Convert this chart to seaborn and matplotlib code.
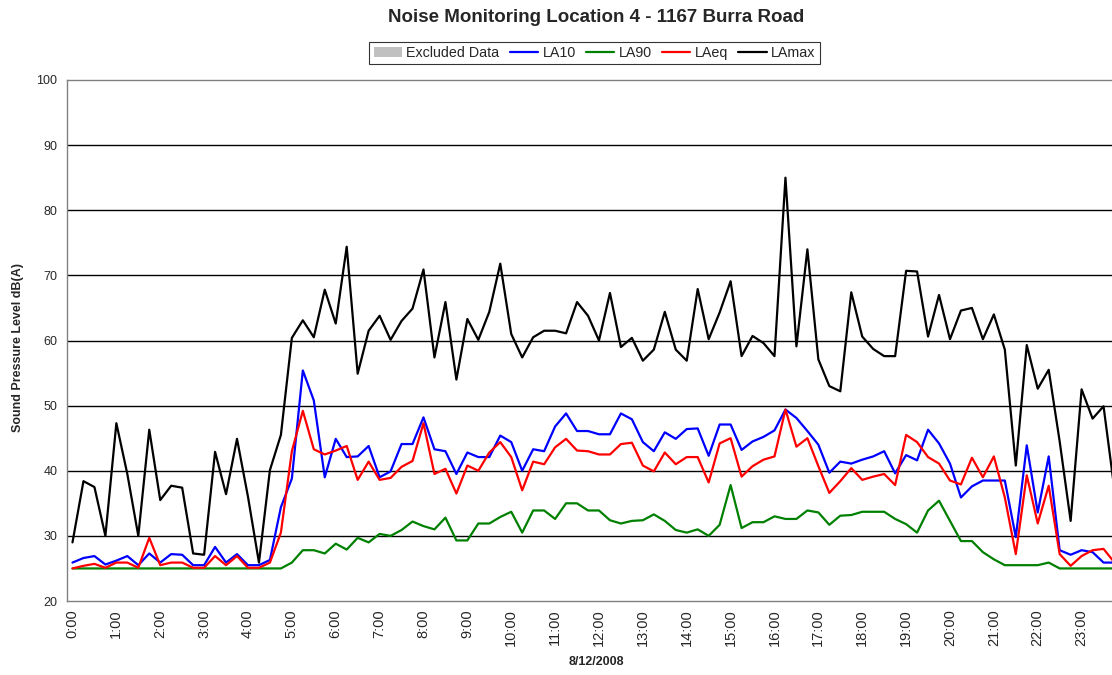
import numpy as np
import pandas as pd
import matplotlib
matplotlib.use("Agg")
import matplotlib.pyplot as plt
from matplotlib.patches import Patch
from matplotlib.lines import Line2D
import seaborn as sns

# 15-minute intervals over the day
times = [f"{h}:{m:02d}" for h in range(24) for m in (0, 15, 30, 45)]

la10 = [25.9, 26.6, 26.9, 25.6, 26.2, 26.9, 25.5, 27.3, 25.9, 27.2, 27.1, 25.5,
        25.5, 28.3, 25.9, 27.2, 25.5, 25.5, 26.3, 34.4, 38.8, 55.4, 50.8, 39.0,
        44.9, 42.1, 42.2, 43.8, 39.0, 39.9, 44.1, 44.1, 48.2, 43.3, 43.0, 39.5,
        42.8, 42.1, 42.1, 45.4, 44.4, 40.0, 43.3, 43.0, 46.8, 48.8, 46.1, 46.1,
        45.6, 45.6, 48.8, 47.9, 44.4, 43.0, 45.9, 44.9, 46.4, 46.5, 42.3, 47.1,
        47.1, 43.2, 44.5, 45.2, 46.2, 49.4, 48.1, 46.1, 44.0, 39.7, 41.4, 41.1,
        41.7, 42.2, 43.0, 39.6, 42.4, 41.6, 46.3, 44.2, 41.1, 35.9, 37.6, 38.5,
        38.5, 38.5, 29.8, 43.9, 33.6, 42.2, 27.8, 27.1, 27.8, 27.5, 25.9, 25.9]

la90 = [25.0] * 20 + [
        25.9, 27.8, 27.8, 27.3, 28.8, 27.9, 29.7, 29.0, 30.3, 30.0, 30.9, 32.2,
        31.5, 31.0, 32.8, 29.3, 29.3, 31.9, 31.9, 32.9, 33.7, 30.5, 33.9, 33.9,
        32.6, 35.0, 35.0, 33.9, 33.9, 32.4, 31.9, 32.3, 32.4, 33.3, 32.3, 30.9,
        30.5, 31.0, 30.0, 31.7, 37.8, 31.2, 32.1, 32.1, 33.0, 32.6, 32.6, 33.9,
        33.6, 31.7, 33.1, 33.2, 33.7, 33.7, 33.7, 32.6, 31.8, 30.5, 33.9, 35.4,
        32.3, 29.2, 29.2, 27.5, 26.4, 25.5, 25.5, 25.5, 25.5, 25.9, 25.0, 25.0,
        25.0, 25.0, 25.0, 25.0]

laeq = [25.0, 25.4, 25.7, 25.1, 25.9, 25.9, 25.1, 29.7, 25.5, 25.9, 25.9, 25.1,
        25.1, 26.9, 25.5, 26.9, 25.1, 25.1, 25.9, 30.5, 43.0, 49.2, 43.3, 42.5,
        43.1, 43.8, 38.6, 41.4, 38.6, 38.9, 40.6, 41.5, 47.3, 39.5, 40.3, 36.5,
        40.8, 40.0, 42.8, 44.4, 42.1, 37.0, 41.4, 41.0, 43.6, 44.9, 43.1, 43.0,
        42.5, 42.5, 44.1, 44.3, 40.8, 39.9, 42.8, 41.0, 42.1, 42.1, 38.2, 44.2,
        45.0, 39.1, 40.7, 41.7, 42.2, 49.4, 43.7, 45.0, 40.7, 36.6, 38.4, 40.4,
        38.6, 39.1, 39.5, 37.8, 45.5, 44.4, 42.1, 41.1, 38.5, 37.9, 42.0, 39.0,
        42.2, 35.9, 27.2, 39.3, 31.9, 37.7, 27.2, 25.4, 26.9, 27.8, 28.0, 25.9]

lamax = [29.0, 38.4, 37.5, 30.0, 47.3, 39.5, 30.0, 46.3, 35.5, 37.7, 37.4, 27.3,
         27.1, 42.9, 36.4, 44.9, 36.0, 25.9, 40.1, 45.5, 60.4, 63.1, 60.5, 67.8,
         62.6, 74.4, 54.9, 61.5, 63.8, 60.1, 63.0, 64.9, 70.9, 57.4, 65.9, 54.0,
         63.3, 60.1, 64.4, 71.8, 61.0, 57.4, 60.5, 61.5, 61.5, 61.1, 65.9, 63.8,
         60.0, 67.3, 59.0, 60.4, 56.9, 58.6, 64.4, 58.6, 56.9, 67.9, 60.2, 64.3,
         69.1, 57.6, 60.7, 59.6, 57.6, 85.0, 59.1, 74.0, 57.1, 53.0, 52.2, 67.4,
         60.6, 58.7, 57.6, 57.6, 70.7, 70.6, 60.6, 67.0, 60.2, 64.6, 65.0, 60.2,
         64.0, 58.6, 40.8, 59.3, 52.6, 55.5, 44.5, 32.3, 52.5, 48.0, 49.9, 37.0]

series_names = ["LA10", "LA90", "LAeq", "LAmax"]
series_colors = ["#0000ff", "#008000", "#ff0000", "#000000"]
y_ticks = [20, 30, 40, 50, 60, 70, 80, 90, 100]

sns.set_style("white")
plt.rcParams["font.family"] = ["Liberation Sans", "DejaVu Sans"]

df = pd.DataFrame({
    "slot": np.tile(np.arange(len(times)), 4),
    "level": la10 + la90 + laeq + lamax,
    "series": np.repeat(series_names, len(times)),
})

W, H = 1112, 675
fig = plt.figure(figsize=(W / 100, H / 100), dpi=100)
left, right, top, bottom = 67, 1120, 80, 601
ax = fig.add_axes([left / W, 1 - bottom / H, (right - left) / W, (bottom - top) / H])

sns.lineplot(data=df, x="slot", y="level", hue="series", hue_order=series_names,
             palette=series_colors, linewidth=1.6, legend=False, ax=ax,
             estimator=None, sort=False)
ax.set_xlabel("")
ax.set_ylabel("")

ax.set_xlim(-0.5, len(times) - 0.5)
ax.set_ylim(20, 100)
ax.set_yticks(y_ticks)
ax.set_yticklabels([str(v) for v in y_ticks], fontsize=9)
for v in y_ticks[1:-1]:
    ax.axhline(v, color="#000000", linewidth=1.0, zorder=0.5)

label_slots = np.arange(0, len(times), 4)
ax.set_xticks(label_slots)
ax.set_xticklabels([times[i] for i in label_slots], rotation=90, fontsize=10.5)
ax.set_xticks(np.arange(-0.5, len(times)), minor=True)
ax.tick_params(axis="x", which="major", length=0, pad=6)
ax.tick_params(axis="x", which="minor", length=4, width=0.8, color="#333333", direction="out")
ax.tick_params(axis="y", which="major", length=4, width=0.8, color="#333333", direction="out", pad=3)

for s in ("left", "bottom", "top", "right"):
    ax.spines[s].set_color("#808080")
    ax.spines[s].set_linewidth(1.0)

fig.text(596 / W, 1 - 662 / H, "8/12/2008", ha="center", va="center",
         fontsize=9, fontweight="bold")
fig.text(18 / W, 1 - 347 / H, "Sound Pressure Level dB(A)", ha="center", va="center",
         rotation=90, fontsize=9, fontweight="bold")

fig.text(596 / W, 1 - 18 / H, "Noise Monitoring Location 4 - 1167 Burra Road",
         ha="center", va="center", fontsize=13.5, fontweight="bold")

handles = [Patch(facecolor="#c0c0c0", edgecolor="none", label="Excluded Data")]
handles += [Line2D([], [], color=c, linewidth=1.6, label=n)
            for n, c in zip(series_names, series_colors)]
leg = fig.legend(handles=handles, loc="center", bbox_to_anchor=(594.5 / W, 1 - 53 / H),
                 ncol=5, frameon=True, fancybox=False, fontsize=10.3,
                 handlelength=2.0, handletextpad=0.3, columnspacing=0.7,
                 borderpad=0.3, edgecolor="#000000")
leg.get_frame().set_linewidth(0.8)

fig.savefig("out.png", dpi=100)
